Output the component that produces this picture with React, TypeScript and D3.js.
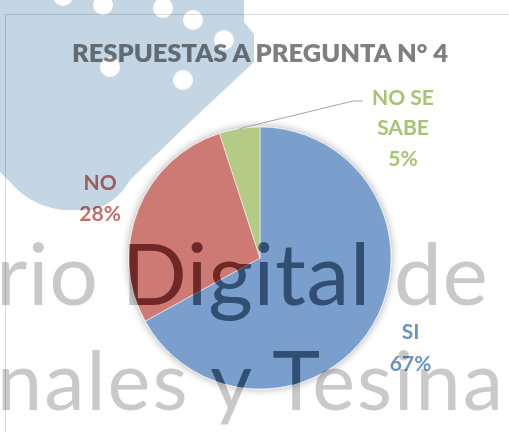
import React from "react";
import * as d3 from "d3";

const categories = ["SI", "NO", "NO SE SABE"];
const values = [67, 28, 5];
const labels = ["67%", "28%", "5%"];
const title = "RESPUESTAS A PREGUNTA N° 4";
const watermarkLines = ["rio Digital de", "nales y Tesina"];

const W = 509;
const H = 432;
const cx = 260;
const cy = 258;
const R = 131;
const sliceColors = ["#7a9fcc", "#cd7a74", "#b4cb86"];
const labelColors = ["#6b93c6", "#c86e69", "#a7c473"];
const wmTints = ["#82a0b4", "#b26a6a", "#8a9a8a"];

export default function App() {
  const pie = d3.pie<number>().sort(null).value((d) => d);
  const arcs = pie(values);
  const arc = d3.arc<d3.PieArcDatum<number>>().innerRadius(0).outerRadius(R);
  const pt = (a: number, r: number) => [cx + r * Math.sin(a), cy - r * Math.cos(a)];
  const mid = (d: d3.PieArcDatum<number>) => (d.startAngle + d.endAngle) / 2;

  const siPos = pt(mid(arcs[0]), 175);
  const noPos = pt(mid(arcs[1]), 172);
  const gStart = pt(mid(arcs[2]), R);
  const gElbow = [353, 101];
  const gEnd = [363, 101];

  const font = "Lato, 'Open Sans', sans-serif";
  const wmFont = "Lato, 'Open Sans', sans-serif";

  const wmText = (fill: string) => (
    <>
      <text x={-4} y={305} fontFamily={wmFont} fontWeight={400} fontSize={86} fill={fill}
        textLength={492} lengthAdjust="spacing">{watermarkLines[0]}</text>
      <text x={-3} y={410} fontFamily={wmFont} fontWeight={400} fontSize={81} fill={fill}
        textLength={506} lengthAdjust="spacing">{watermarkLines[1]}</text>
    </>
  );

  const dots = [[103, 5], [163, 8], [193, 20], [224, 40], [110, 67], [183, 80], [63, -4]];

  return (
    <svg width={W} height={H} style={{ position: "absolute", left: 0, top: 0 }}>
      <defs>
        <filter id="sh" x="-20%" y="-20%" width="140%" height="140%">
          <feGaussianBlur in="SourceAlpha" stdDeviation="4" />
          <feComponentTransfer>
            <feFuncA type="linear" slope="0.35" />
          </feComponentTransfer>
          <feMerge>
            <feMergeNode />
            <feMergeNode in="SourceGraphic" />
          </feMerge>
        </filter>
        {arcs.map((d, i) => (
          <clipPath key={i} id={`slice${i}`}>
            <path d={arc(d) || ""} transform={`translate(${cx},${cy})`} />
          </clipPath>
        ))}
      </defs>
      <rect x={0} y={0} width={W} height={H} fill="#fff" />
      {/* chart frame */}
      <line x1={5.5} y1={14.5} x2={W} y2={14.5} stroke="#d9d9d9" />
      <line x1={5.5} y1={14.5} x2={5.5} y2={H} stroke="#d9d9d9" />

      <text x={260} y={62} textAnchor="middle" fontFamily={font} fontWeight={800} fontSize={23.5}
        fill="#7f7f7f" textLength={376} lengthAdjust="spacingAndGlyphs">{title}</text>

      <g filter="url(#sh)">
        {arcs.map((d, i) => (
          <path key={categories[i]} d={arc(d) || ""} transform={`translate(${cx},${cy})`}
            fill={sliceColors[i]} stroke="#fff" strokeWidth={0.5} />
        ))}
      </g>

      <polyline points={[gStart, gElbow, gEnd].map((p) => p.join(",")).join(" ")}
        fill="none" stroke="#a6a6a6" strokeWidth={1} />

      <g fontFamily={font} fontWeight={700} fontSize={21} textAnchor="middle">
        <text x={siPos[0]} y={siPos[1] - 8} fill={labelColors[0]}>{categories[0]}</text>
        <text x={siPos[0]} y={siPos[1] + 24} fill={labelColors[0]}>{labels[0]}</text>
        <text x={noPos[0]} y={noPos[1] - 5} fill={labelColors[1]}>{categories[1]}</text>
        <text x={noPos[0]} y={noPos[1] + 26} fill={labelColors[1]}>{labels[1]}</text>
        <text x={403} y={105} fill={labelColors[2]}>NO SE</text>
        <text x={403} y={135} fill={labelColors[2]}>SABE</text>
        <text x={403} y={166} fill={labelColors[2]}>{labels[2]}</text>
      </g>

      {/* watermark */}
      <g style={{ mixBlendMode: "multiply" }}>
        <path d="M0,0 L244,0 L244,22 L254,34 L254,62 L190,122 L130,180 Q116,204 92,210 L62,210 Q35,206 18,190 L0,172 Z"
          fill="#c4d6e4" />
        {dots.map((p, i) => (
          <circle key={i} cx={p[0]} cy={p[1]} r={10} fill="#fff" />
        ))}
      </g>
      <g style={{ mixBlendMode: "multiply" }}>{wmText("#c9c9c9")}</g>
      {arcs.map((d, i) => (
        <g key={i} style={{ mixBlendMode: "multiply" }} clipPath={`url(#slice${i})`}>{wmText(wmTints[i])}</g>
      ))}
    </svg>
  );
}
